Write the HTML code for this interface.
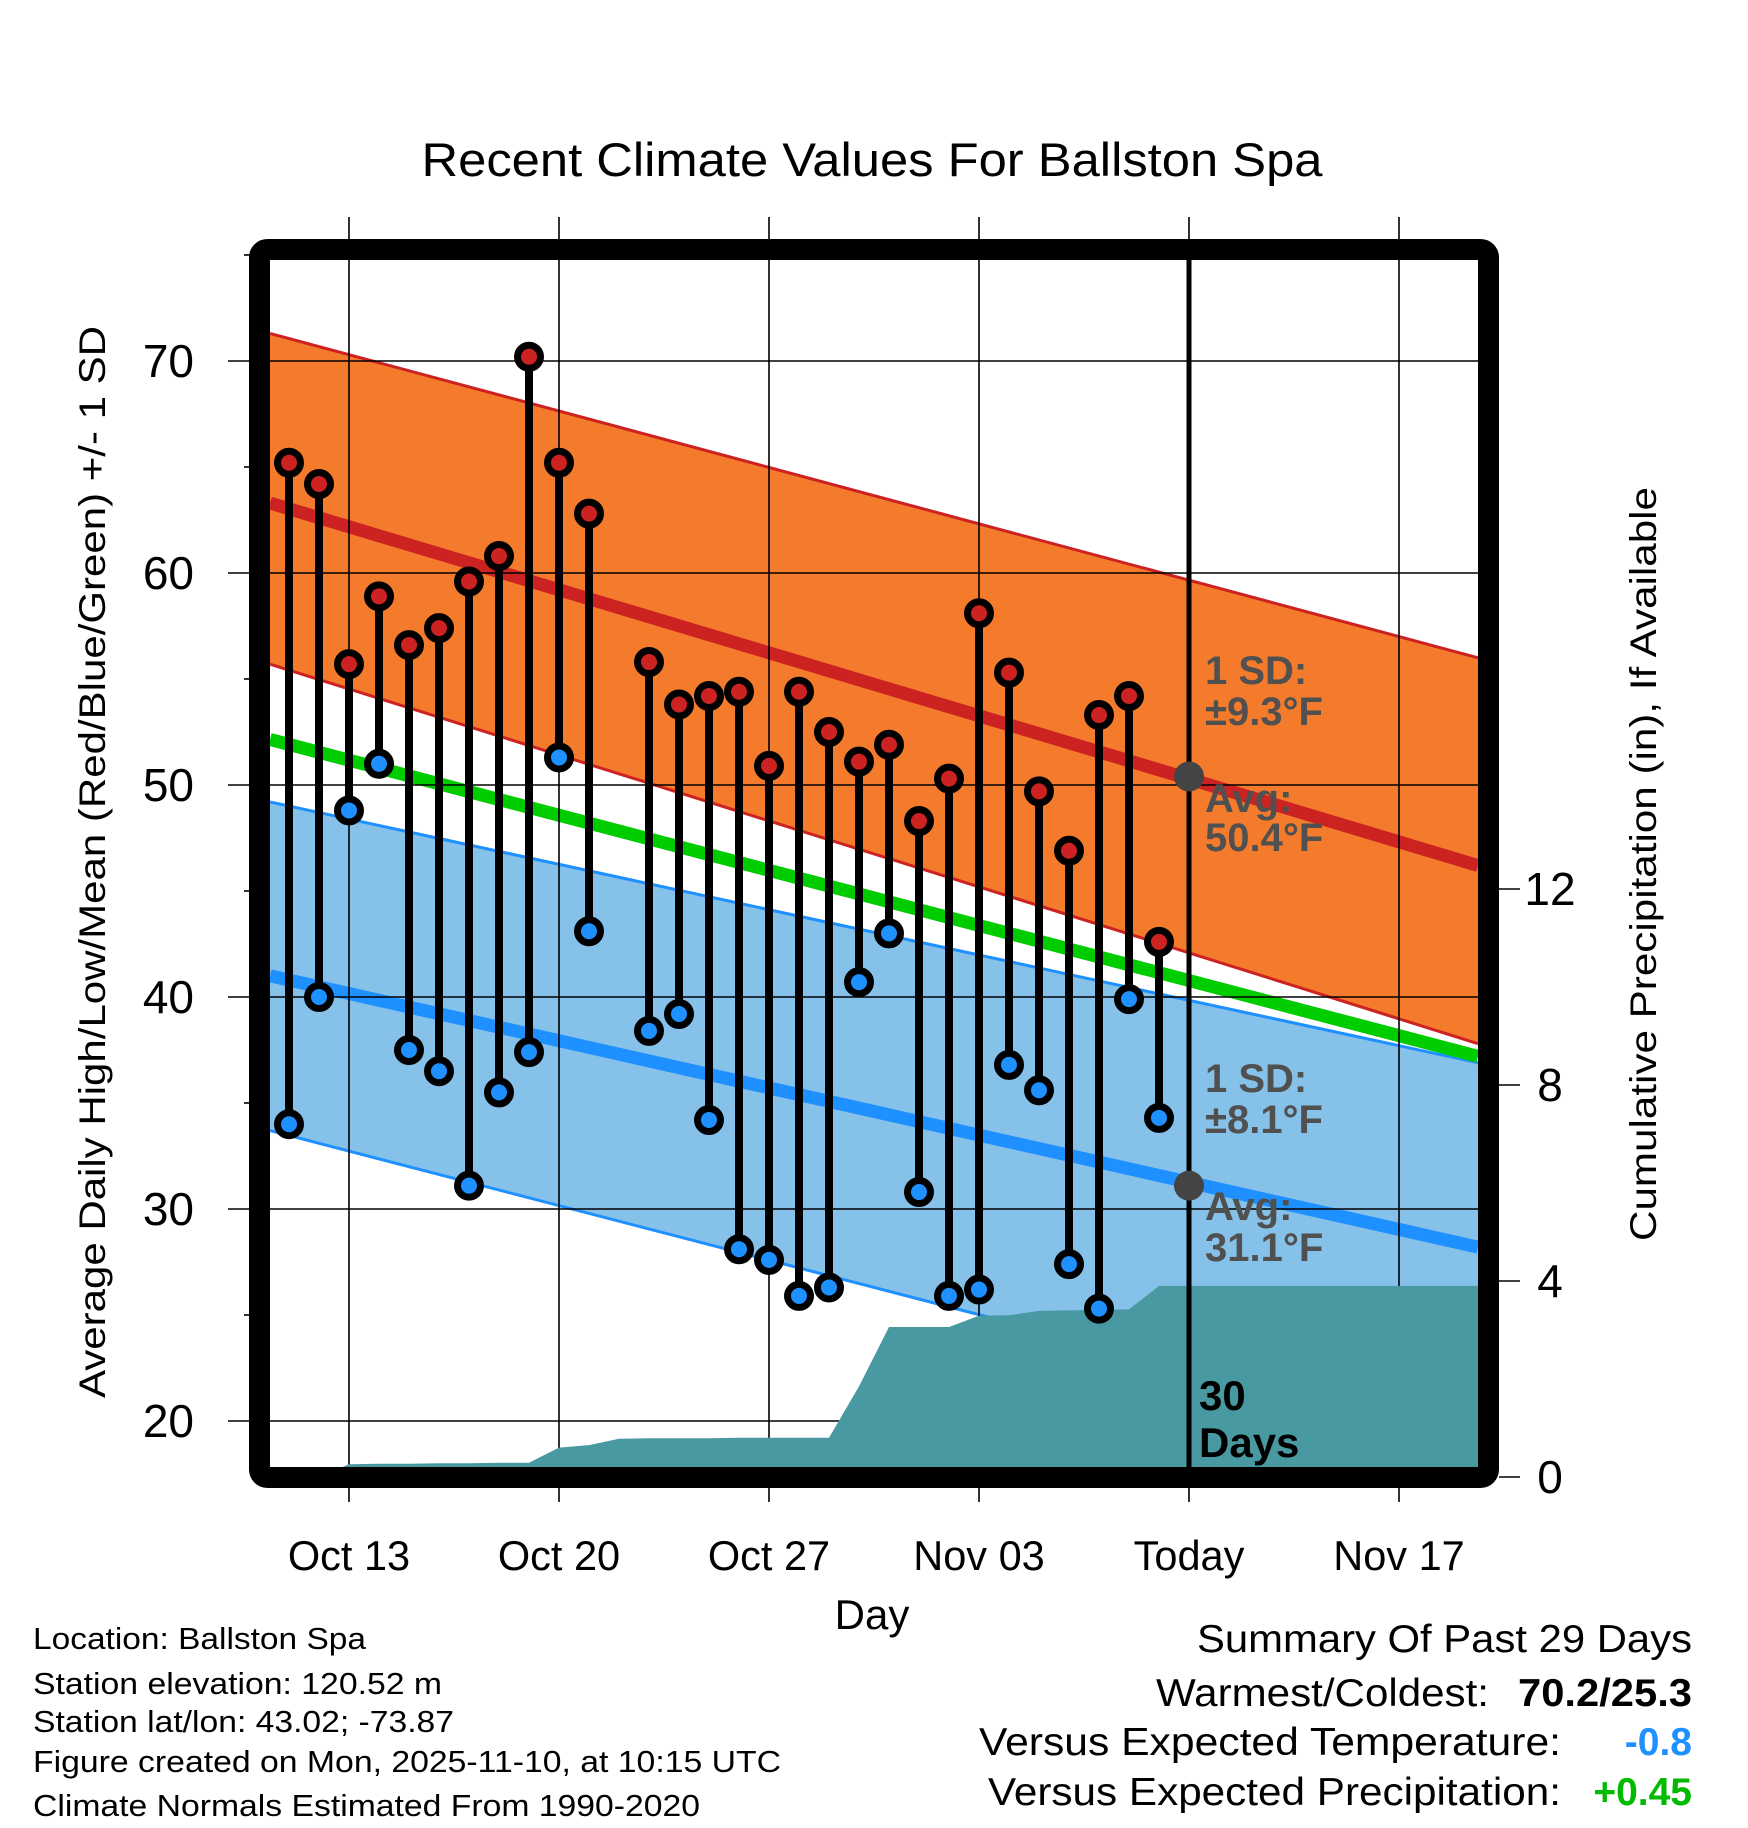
<!DOCTYPE html>
<html><head><meta charset="utf-8"><style>
html,body{margin:0;padding:0;background:#fff;}
svg{display:block;font-family:"Liberation Sans",Arial,sans-serif;}
</style></head><body>
<svg id="chart" width="1748" height="1828" viewBox="0 0 1748 1828" xmlns="http://www.w3.org/2000/svg">
<text x="872" y="176" font-size="47" text-anchor="middle" textLength="901" lengthAdjust="spacingAndGlyphs">Recent Climate Values For Ballston Spa</text>
<g id="bands"></g><g id="grid"></g><g id="precip"></g><g id="lines"></g><g id="marks"></g><g id="axes"></g>
<text transform="translate(105,862) rotate(-90)" font-size="37" text-anchor="middle" textLength="1072" lengthAdjust="spacingAndGlyphs">Average Daily High/Low/Mean (Red/Blue/Green) +/- 1 SD</text>
<text transform="translate(1656,864) rotate(-90)" font-size="37" text-anchor="middle" textLength="754" lengthAdjust="spacingAndGlyphs">Cumulative Precipitation (in), If Available</text>
<text x="872" y="1629" font-size="42" text-anchor="middle">Day</text>
<g font-size="31">
<text x="33" y="1649" textLength="333" lengthAdjust="spacingAndGlyphs">Location: Ballston Spa</text>
<text x="33" y="1694" textLength="409" lengthAdjust="spacingAndGlyphs">Station elevation: 120.52 m</text>
<text x="33" y="1732" textLength="421" lengthAdjust="spacingAndGlyphs">Station lat/lon: 43.02; -73.87</text>
<text x="33" y="1772" textLength="748" lengthAdjust="spacingAndGlyphs">Figure created on Mon, 2025-11-10, at 10:15 UTC</text>
<text x="33" y="1816" textLength="667" lengthAdjust="spacingAndGlyphs">Climate Normals Estimated From 1990-2020</text>
</g>
<g font-size="39" text-anchor="end">
<text x="1692" y="1652" textLength="495" lengthAdjust="spacingAndGlyphs">Summary Of Past 29 Days</text>
<text x="1489" y="1706" textLength="333" lengthAdjust="spacingAndGlyphs">Warmest/Coldest:</text>
<text x="1692" y="1706" font-weight="bold" textLength="174" lengthAdjust="spacingAndGlyphs">70.2/25.3</text>
<text x="1561" y="1755" textLength="582" lengthAdjust="spacingAndGlyphs">Versus Expected Temperature:</text>
<text x="1692" y="1755" font-weight="bold" fill="#1e90ff">-0.8</text>
<text x="1561" y="1805" textLength="573" lengthAdjust="spacingAndGlyphs">Versus Expected Precipitation:</text>
<text x="1692" y="1805" font-weight="bold" fill="#00bb00">+0.45</text>
</g>
</svg>
<script>
// Day index 0 = Oct 11
const dayLabels = ["Oct 13","Oct 20","Oct 27","Nov 03","Today","Nov 17"];
const labelDays = [2,9,16,23,30,37];
const obsDays = [0,1,2,3,4,5,6,7,8,9,10,12,13,14,15,16,17,18,19,20,21,22,23,24,25,26,27,28,29];
const highs = [65.2,64.2,55.7,58.9,56.6,57.4,59.6,60.8,70.2,65.2,62.8,55.8,53.8,54.2,54.4,50.9,54.4,52.5,51.1,51.9,48.3,50.3,58.1,55.3,49.7,46.9,53.3,54.2,42.6];
const lows = [34.0,40.0,48.8,51.0,37.5,36.5,31.1,35.5,37.4,51.3,43.1,38.4,39.2,34.2,28.1,27.6,25.9,26.3,40.7,43.0,30.8,25.9,26.2,36.8,35.6,27.4,25.3,39.9,34.3];
const precipDays = [0,1,2,3,4,5,6,7,8,9,10,11,12,13,14,15,16,17,18,19,20,21,22,23,24,25,26,27,28,29];
const precipVals = [0,0,0.26,0.27,0.27,0.28,0.28,0.29,0.29,0.60,0.65,0.78,0.79,0.79,0.79,0.80,0.80,0.80,0.80,1.85,3.06,3.06,3.06,3.29,3.30,3.39,3.40,3.41,3.42,3.9];
// normals at plot left edge / right edge
const highUpper = [71.3,56.0];
const highAvg = [63.3,46.2];
const highLower = [55.7,37.8];
const lowUpper = [49.2,36.9];
const lowAvg = [41.0,28.2];
const lowLower = [33.7,18.9];
const todayNormals = [50.4,31.1];
const todayDay = [30];
const yTicks = [20,30,40,50,60,70];
const yMinor = [25,35,45,55,65,75];
const pTicks = [0,4,8,12];

const NS="http://www.w3.org/2000/svg";
const X=d=>289+30*d;
const Y=v=>361+(70-v)*21.2;
const P=p=>1477-49*p;
const L=270,R=1478,T=260,B=1467;
function el(tag,attrs,parent){const e=document.createElementNS(NS,tag);for(const k in attrs)e.setAttribute(k,attrs[k]);parent.appendChild(e);return e;}
const g=id=>document.getElementById(id);
const meanArr=[(highAvg[0]+lowAvg[0])/2,(highAvg[1]+lowAvg[1])/2];

let e;
e=el('polygon',{points:`${L},${Y(lowUpper[0])} ${R},${Y(lowUpper[1])} ${R},${Y(lowLower[1])} ${L},${Y(lowLower[0])}`,fill:'#85c1e9'},g('bands'));


e=el('polygon',{points:`${L},${Y(highUpper[0])} ${R},${Y(highUpper[1])} ${R},${Y(highLower[1])} ${L},${Y(highLower[0])}`,fill:'#f47b2c'},g('bands'));


[[highUpper,'#cc2222'],[highLower,'#cc2222'],[lowUpper,'#1e90ff'],[lowLower,'#1e90ff']].forEach(([a,c])=>{
  e=el('line',{x1:L,y1:Y(a[0]),x2:R,y2:Y(a[1]),stroke:c,'stroke-width':3},g('bands'));
  
  
});
[[meanArr,'#00cc00','mean-normal-line'],[highAvg,'#cc2222','high-normal-line'],[lowAvg,'#1e90ff','low-normal-line']].forEach(([a,c,n])=>{
  e=el('line',{x1:L,y1:Y(a[0]),x2:R,y2:Y(a[1]),stroke:c,'stroke-width':13},g('bands'));
  
  
});

yTicks.forEach(v=>{
  e=el('line',{x1:228,y1:Y(v),x2:R,y2:Y(v),stroke:'#000','stroke-width':1.6},g('grid'));
  
  
  e=el('text',{x:194,y:Y(v)+16,'font-size':46,'text-anchor':'end'},g('axes'));e.textContent=v;
  
  
});
yMinor.forEach(v=>{
  e=el('line',{x1:244,y1:Y(v),x2:252,y2:Y(v),stroke:'#000','stroke-width':1.6},g('grid'));
  
  
});
labelDays.forEach((d,i)=>{
  e=el('line',{x1:X(d),y1:217,x2:X(d),y2:1502,stroke:'#000','stroke-width':1.6},g('grid'));
  
  
  e=el('text',{x:X(d),y:1570,'font-size':41.5,'text-anchor':'middle'},g('axes'));e.textContent=dayLabels[i];
  
  
});

let pts=precipDays.map((d,i)=>`${X(d)},${P(precipVals[i])}`);
pts.push(`${R},${P(precipVals[precipVals.length-1])}`,`${R},${P(0)}`,`${X(precipDays[0])},${P(0)}`);
e=el('polygon',{points:pts.join(' '),fill:'#4899a1'},g('precip'));



e=el('line',{x1:X(todayDay[0]),y1:T,x2:X(todayDay[0]),y2:B,stroke:'#000','stroke-width':5},g('lines'));


todayNormals.forEach(v=>{
  e=el('circle',{cx:X(todayDay[0]),cy:Y(v),r:15,fill:'#444'},g('lines'));
  
  
});
const ann=[["1 SD:",670],["±9.3°F",711],["Avg:",798],["50.4°F",837],["1 SD:",1078],["±8.1°F",1119],["Avg:",1206],["31.1°F",1247]];
ann.forEach(([t,y])=>{
  e=el('text',{x:1205,y:y+14,'font-size':40,'font-weight':'bold',fill:'#505050'},g('lines'));e.textContent=t;
  
  
});
[["30",1410],["Days",1457]].forEach(([t,y])=>{
  e=el('text',{x:1199,y:y,'font-size':42,'font-weight':'bold',fill:'#000'},g('lines'));e.textContent=t;
  
  
});

obsDays.forEach((d,i)=>{
  e=el('line',{x1:X(d),y1:Y(highs[i]),x2:X(d),y2:Y(lows[i]),stroke:'#000','stroke-width':8},g('marks'));
  
  
  e=el('circle',{cx:X(d),cy:Y(highs[i]),r:11.5,fill:'#cc2222',stroke:'#000','stroke-width':7},g('marks'));
  
  
  e=el('circle',{cx:X(d),cy:Y(lows[i]),r:11.5,fill:'#1e90ff',stroke:'#000','stroke-width':7},g('marks'));
  
  
});

e=el('rect',{x:259.5,y:249.5,width:1229,height:1228,rx:8,fill:'none',stroke:'#000','stroke-width':21},g('axes'));


pTicks.forEach(p=>{
  e=el('line',{x1:1499,y1:P(p),x2:1520,y2:P(p),stroke:'#000','stroke-width':1.6},g('axes'));
  
  
  e=el('text',{x:1550,y:P(p)+16,'font-size':46,'text-anchor':'middle'},g('axes'));e.textContent=p;
  
  
});
</script>
</body></html>
